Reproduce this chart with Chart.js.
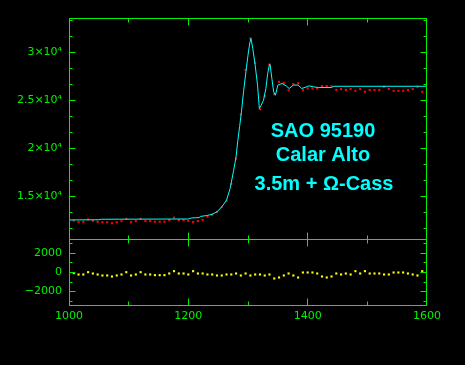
<!DOCTYPE html>
<html>
<head>
<meta charset="utf-8">
<script src="https://cdn.jsdelivr.net/npm/chart.js@4/dist/chart.umd.min.js"></script>
<style>
  html, body { margin: 0; padding: 0; background: #000; }
  body { width: 465px; height: 365px; position: relative; overflow: hidden; }
  canvas { position: absolute; left: 0; }
  #top { top: 0; }
  #bottom { top: 239px; }
</style>
</head>
<body>
<canvas id="top" width="465" height="240"></canvas>
<canvas id="bottom" width="465" height="126"></canvas>
<script>
// grid of observations (ms)
const obsX = [
  1000, 1008, 1016, 1024, 1032, 1040, 1048, 1056, 1064, 1072,
  1080, 1088, 1096, 1104, 1112, 1120, 1128, 1136, 1144, 1152,
  1160, 1168, 1176, 1184, 1192, 1200, 1208, 1216, 1224, 1232,
  1240, 1248, 1256, 1264, 1272, 1280, 1288, 1296, 1304, 1312,
  1320, 1328, 1336, 1344, 1352, 1360, 1368, 1376, 1384, 1392,
  1400, 1408, 1416, 1424, 1432, 1440, 1448, 1456, 1464, 1472,
  1480, 1488, 1496, 1504, 1512, 1520, 1528, 1536, 1544, 1552,
  1560, 1568, 1576, 1584, 1592, 1600
];
// observed counts
const obsY = [
  12385, 12493, 12356, 12360, 12608, 12471, 12369, 12316, 12318, 12215,
  12321, 12428, 12675, 12327, 12434, 12681, 12438, 12440, 12372, 12373,
  12375, 12551, 12797, 12553, 12554, 12450, 12330, 12450, 12550, 12900,
  13100, 13400, 13900, 14550, 16300, 18950, 23540, 28200, 31460, 28920,
  24100, 25450, 28750, 25650, 26940, 26830, 26070, 26700, 26800, 26070,
  26250, 26250, 26250, 26500, 26500, 26500, 26100, 26190, 26085, 26190,
  26010, 26190, 25910, 26085, 26085, 26085, 26430, 26190, 26010, 26010,
  26010, 26085, 26190, 26430, 25910, 25910
];
// residuals (obs - fit)
const resY = [
  -175, -70, -210, -210, 35, -105, -210, -315, -315, -420,
  -315, -210, 35, -315, -210, 35, -210, -210, -280, -280,
  -280, -105, 140, -105, -105, -210, 140, -105, -105, -210,
  -210, -315, -315, -210, -210, -105, -315, -105, -315, -210,
  -210, -315, -210, -630, -525, -315, -105, -315, -525, 0,
  0, 0, -105, -420, -525, -420, -105, -210, -105, -210,
  140, -105, 140, -105, -105, -105, -210, -210, 0, 0,
  0, -105, -210, -315, 140, 140
];
// fitted model curve
const fitX = [1000, 1050, 1054, 1200, 1206, 1218, 1220, 1231, 1240, 1248, 1256, 1264, 1270, 1276, 1280, 1283,
  1286, 1289, 1292.5, 1296.5, 1300, 1303, 1305, 1308, 1312, 1316, 1319, 1322, 1326, 1330, 1333, 1336, 1337,
  1340, 1343, 1346, 1350, 1357, 1364, 1369, 1376, 1384, 1390, 1397, 1402, 1410, 1418, 1440, 1444, 1600];
const fitY = [12560, 12580, 12630, 12660, 12770, 12800, 12920, 13020, 13150, 13400, 13920, 14610, 15830, 17740, 19130, 20860,
  22300, 23810, 25900, 27980, 29720, 31000, 31460, 30420, 28680, 26600, 24170, 24500, 25030, 26250, 27810, 28750, 28750,
  27290, 25900, 25550, 26600, 26770, 26520, 26250, 26600, 26600, 26250, 26390, 26520, 26420, 26350, 26350, 26480, 26480];

const xMajor = [1000, 1200, 1400, 1600];
const xMinor = [1100, 1300, 1500];
const topTicks = [15000, 20000, 25000, 30000];
const topLabels = ['1.5×10⁴', '2×10⁴', '2.5×10⁴', '3×10⁴'];
const botTicks = [-2000, 0, 2000];
const botLabels = ['−2000', '0', '2000'];
const titleLines = ['SAO 95190', 'Calar Alto', '3.5m + Ω-Cass'];

const GREEN = '#00f000';
const tickFont = { family: 'DejaVu Sans', size: 11 };
const noGrid = { display: false, drawTicks: false, tickLength: 0 };

// minor ticks on the top panel: thirds of the 5000 step
const topMinor = [];
for (let v = 10000; v <= 35000; v += 5000 / 3) {
  if (Math.abs(v % 5000) > 1 && Math.abs(v % 5000 - 5000) > 1) topMinor.push(v);
}
const botMinor = [-3000, -1000, 1000, 3000];

// no extra room for half labels, the frame is placed by hand
function fixY(s) {
  s.width = 69;
  s.paddingTop = 0;
  s.paddingBottom = 0;
}

// frame with inward ticks on all four sides
const frame = {
  id: 'frame',
  afterDraw(chart, args, o) {
    const { ctx, chartArea: a, scales: { x, y } } = chart;
    const L = a.left + 0.5, R = a.right - 0.5, T = a.top + 0.5, B = a.bottom - 0.5;
    ctx.save();
    ctx.strokeStyle = GREEN;
    ctx.lineWidth = 1;
    ctx.strokeRect(L, T, R - L, B - T);
    ctx.beginPath();
    const xt = (v, len) => {
      if (v <= x.min || v >= x.max) return;
      const p = Math.floor(x.getPixelForValue(v)) + 0.5;
      ctx.moveTo(p, T); ctx.lineTo(p, T + len);
      ctx.moveTo(p, B); ctx.lineTo(p, B - len);
    };
    const yt = (v, len) => {
      if (v <= y.min || v >= y.max) return;
      const p = Math.floor(y.getPixelForValue(v)) + 0.5;
      ctx.moveTo(L, p); ctx.lineTo(L + len, p);
      ctx.moveTo(R, p); ctx.lineTo(R - len, p);
    };
    xMajor.forEach(v => xt(v, 7));
    xMinor.forEach(v => xt(v, 4));
    o.yMajor.forEach(v => yt(v, 6));
    o.yMinor.forEach(v => yt(v, 3));
    ctx.stroke();
    ctx.restore();
  }
};

const title = {
  id: 'title',
  afterDatasetsDraw(chart) {
    const ctx = chart.ctx;
    ctx.save();
    ctx.fillStyle = '#00ffff';
    ctx.font = 'bold 20px "Liberation Sans", Arial, sans-serif';
    ctx.textAlign = 'center';
    ctx.textBaseline = 'alphabetic';
    ctx.fillText(titleLines[0], 323, 137);
    ctx.fillText(titleLines[1], 323, 161);
    ctx.fillText(titleLines[2], 324, 190);
    ctx.restore();
  }
};

new Chart(document.getElementById('top'), {
  type: 'scatter',
  data: {
    datasets: [{
      data: fitX.map((x, i) => ({ x, y: fitY[i] })),
      showLine: true,
      borderColor: '#00ffff',
      borderWidth: 1,
      pointRadius: 0,
      order: 0
    }, {
      data: obsX.map((x, i) => ({ x, y: obsY[i] })),
      pointStyle: 'rect',
      pointRadius: 1.5,
      backgroundColor: '#ff0000',
      borderWidth: 0,
      order: 1
    }]
  },
  options: {
    responsive: false,
    animation: false,
    devicePixelRatio: 1,
    layout: { autoPadding: false, padding: { left: 0, right: 38, top: 18, bottom: 0 } },
    events: [],
    plugins: {
      legend: { display: false },
      tooltip: { enabled: false },
      frame: { yMajor: topTicks, yMinor: topMinor }
    },
    scales: {
      x: { type: 'linear', min: 1000, max: 1600, display: false },
      y: {
        min: 10470, max: 33590,
        afterFit: fixY,
        afterBuildTicks: s => { s.ticks = topTicks.map(v => ({ value: v })); },
        grid: noGrid,
        border: { display: false },
        ticks: {
          color: GREEN, font: tickFont, padding: 7, autoSkip: false,
          callback: v => topLabels[topTicks.indexOf(v)]
        }
      }
    }
  },
  plugins: [frame, title]
});

new Chart(document.getElementById('bottom'), {
  type: 'scatter',
  data: {
    datasets: [{
      data: obsX.map((x, i) => ({ x, y: resY[i] })),
      pointStyle: 'rect',
      pointRadius: 1.5,
      backgroundColor: '#ffff00',
      borderWidth: 0
    }]
  },
  options: {
    responsive: false,
    animation: false,
    devicePixelRatio: 1,
    layout: { autoPadding: false, padding: { left: 0, right: 38, top: 0, bottom: 0 } },
    events: [],
    plugins: {
      legend: { display: false },
      tooltip: { enabled: false },
      frame: { yMajor: botTicks, yMinor: botMinor }
    },
    scales: {
      x: {
        type: 'linear', min: 1000, max: 1600,
        afterFit: s => { s.height = 59; s.paddingLeft = 0; s.paddingRight = 0; },
        afterBuildTicks: s => { s.ticks = xMajor.map(v => ({ value: v })); },
        grid: noGrid,
        border: { display: false },
        ticks: { color: GREEN, font: tickFont, padding: 4, autoSkip: false, maxRotation: 0, callback: v => String(v) }
      },
      y: {
        min: -3526, max: 3526,
        afterFit: fixY,
        afterBuildTicks: s => { s.ticks = botTicks.map(v => ({ value: v })); },
        grid: noGrid,
        border: { display: false },
        ticks: {
          color: GREEN, font: tickFont, padding: 7, autoSkip: false,
          callback: v => botLabels[botTicks.indexOf(v)]
        }
      }
    }
  },
  plugins: [frame]
});
</script>
</body>
</html>
